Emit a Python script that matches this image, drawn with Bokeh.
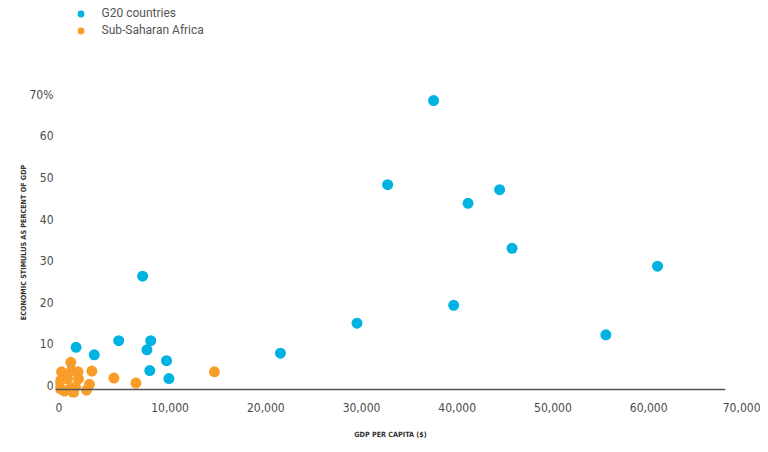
from bokeh.plotting import figure
from bokeh.models import FixedTicker, NumeralTickFormatter, Span, Legend, LegendItem, Range1d
from bokeh.layouts import column
from bokeh.embed import file_html
from bokeh.resources import INLINE

# GDP per capita ($) and economic stimulus (% of GDP)
g20_gdp = [39500, 34700, 46400, 43100, 47700, 62900, 41600, 57500, 31500, 23500,
           9100, 6600, 9950, 9550, 11600, 9850, 11850, 2150, 4050]
g20_stim = [68.6, 48.4, 47.2, 43.9, 33.1, 28.8, 19.4, 12.3, 15.1, 7.9,
            26.4, 10.9, 10.9, 8.7, 6.1, 3.7, 1.8, 9.3, 7.5]

ssa_gdp = [1600, 630, 1670, 2350, 3800, 520, 1250, 2400, 520, 940,
           1570, 2090, 3550, 3240, 6100, 8400, 16600, 310, 1880]
ssa_stim = [5.7, 3.4, 3.7, 3.4, 3.6, 1.3, 1.8, 1.7, -0.7, -1.2,
            -0.5, -0.2, 0.4, -1.0, 1.9, 0.7, 3.4, 0.4, -1.6]

x_ticks = [0, 10000, 20000, 30000, 40000, 50000, 60000, 70000]
y_ticks = [0, 10, 20, 30, 40, 50, 60, 70]
y_tick_labels = {70: "70%"}

series_names = ["G20 countries", "Sub-Saharan Africa"]
BLUE = "#00b2e1"
ORANGE = "#f89d2a"
TICK_FONT = "DejaVu Sans Condensed"
W = 760

# ---- legend strip (top) ----
leg = figure(width=W, height=40, output_backend="svg", toolbar_location=None,
             x_range=Range1d(0, 1), y_range=Range1d(0, 1),
             x_axis_location=None, y_axis_location=None, min_border=0)
leg.grid.visible = False
leg.outline_line_color = None
lr1 = leg.scatter([-5], [-5], size=11, fill_color=BLUE, line_color=None)
lr2 = leg.scatter([-5], [-5], size=11, fill_color=ORANGE, line_color=None)
legend = Legend(items=[LegendItem(label=series_names[0], renderers=[lr1]),
                       LegendItem(label=series_names[1], renderers=[lr2])],
                location=(16.5, 1.5), orientation="vertical",
                glyph_width=17, glyph_height=17, label_height=15, spacing=-2,
                padding=0, margin=0, label_standoff=13,
                border_line_color=None, background_fill_alpha=0,
                label_text_font="Roboto", label_text_font_size="12px",
                label_text_color="#555555")
leg.add_layout(legend)

# ---- main chart ----
p = figure(width=W, height=404, output_backend="svg", toolbar_location=None,
           x_range=Range1d(0, 70000), y_range=Range1d(-2.76, 71.75),
           min_border_left=55, min_border_right=35, min_border_top=47, min_border_bottom=47)
p.outline_line_color = None
p.xgrid.grid_line_color = None
p.ygrid.grid_line_color = None

p.scatter(g20_gdp, g20_stim, size=11, fill_color=BLUE, line_color=None)
p.scatter(ssa_gdp, ssa_stim, size=11, fill_color=ORANGE, line_color=None)

# baseline (x axis line)
p.add_layout(Span(location=-0.84, dimension="width", line_color="#555555", line_width=1.3))

xa = p.xaxis[0]
xa.ticker = FixedTicker(ticks=x_ticks)
xa.formatter = NumeralTickFormatter(format="0,0")
xa.axis_line_color = None
xa.major_tick_line_color = None
xa.minor_tick_line_color = None
xa.major_label_text_font = TICK_FONT
xa.major_label_text_font_size = "12px"
xa.major_label_text_color = "#4a4a4a"
xa.major_label_orientation = -0.0001
xa.major_label_standoff = 4
xa.axis_label = "GDP PER CAPITA ($)"
xa.axis_label_text_font = TICK_FONT
xa.axis_label_text_font_size = "7.2px"
xa.axis_label_text_font_style = "bold"
xa.axis_label_text_color = "#333333"
xa.axis_label_standoff = 10

ya = p.yaxis[0]
ya.ticker = FixedTicker(ticks=y_ticks)
ya.major_label_overrides = y_tick_labels
ya.axis_line_color = None
ya.major_tick_line_color = None
ya.minor_tick_line_color = None
ya.major_label_text_font = TICK_FONT
ya.major_label_text_font_size = "12px"
ya.major_label_text_color = "#4a4a4a"
ya.major_label_standoff = -4
ya.axis_label = "ECONOMIC STIMULUS AS PERCENT OF GDP"
ya.axis_label_text_font = TICK_FONT
ya.axis_label_text_font_size = "7.2px"
ya.axis_label_text_font_style = "bold"
ya.axis_label_text_color = "#333333"
ya.axis_label_standoff = -1

layout = column(leg, p, spacing=0)
open("out.html", "w").write(file_html(layout, INLINE))
